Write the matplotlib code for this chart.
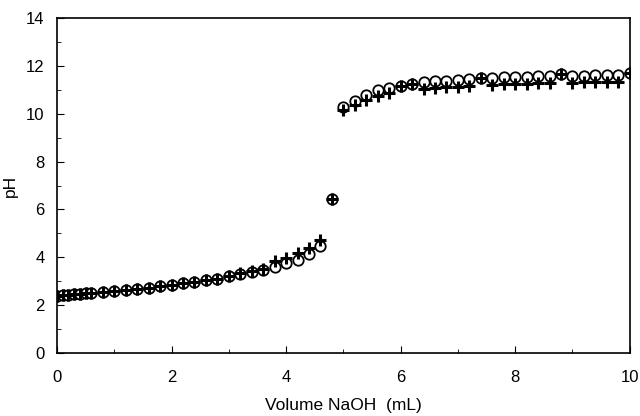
import matplotlib.pyplot as plt
from matplotlib.ticker import MultipleLocator

plt.rcParams['font.family'] = ['Liberation Sans', 'DejaVu Sans']

# volume of NaOH added (mL)
vol = [0.0, 0.1, 0.2, 0.3, 0.4, 0.5, 0.6,
       0.8, 1.0, 1.2, 1.4, 1.6, 1.8, 2.0, 2.2, 2.4, 2.6, 2.8, 3.0,
       3.2, 3.4, 3.6, 3.8, 4.0, 4.2, 4.4, 4.6, 4.8,
       5.0, 5.2, 5.4, 5.6, 5.8, 6.0, 6.2, 6.4, 6.6, 6.8, 7.0, 7.2,
       7.4, 7.6, 7.8, 8.0, 8.2, 8.4, 8.6, 8.8, 9.0, 9.2, 9.4, 9.6,
       9.8, 10.0]

# measured pH (open circles)
ph_measured = [2.40, 2.42, 2.44, 2.46, 2.48, 2.50, 2.52,
               2.56, 2.60, 2.64, 2.68, 2.73, 2.80, 2.86, 2.91, 2.97, 3.04, 3.11, 3.22,
               3.30, 3.38, 3.47, 3.61, 3.77, 3.91, 4.14, 4.47, 6.42,
               10.30, 10.55, 10.80, 10.97, 11.07, 11.17, 11.25, 11.32, 11.35, 11.38, 11.41, 11.44,
               11.50, 11.50, 11.52, 11.54, 11.55, 11.56, 11.57, 11.66, 11.58, 11.59, 11.60, 11.61,
               11.62, 11.70]

# calculated pH (plus markers)
ph_calc = [2.40, 2.42, 2.44, 2.46, 2.48, 2.50, 2.52,
           2.56, 2.60, 2.64, 2.68, 2.73, 2.80, 2.86, 2.91, 2.97, 3.04, 3.11, 3.24,
           3.34, 3.42, 3.52, 3.84, 3.98, 4.17, 4.38, 4.74, 6.42,
           10.15, 10.38, 10.56, 10.72, 10.86, 11.17, 11.25, 11.04, 11.06, 11.10, 11.12, 11.15,
           11.50, 11.18, 11.22, 11.24, 11.25, 11.27, 11.28, 11.66, 11.30, 11.31, 11.32, 11.33,
           11.34, 11.70]

fig = plt.figure(figsize=(6.4, 4.16), dpi=100)
ax = fig.add_axes([0.089, 0.151, 0.895, 0.806])

ax.plot(vol, ph_measured, linestyle='none', marker='o', markersize=7.5,
        markerfacecolor='white', markeredgecolor='black', markeredgewidth=1.3)
ax.plot(vol, ph_calc, linestyle='none', marker='+', markersize=8,
        color='black', markeredgewidth=2.2)

ax.set_xlim(0, 10)
ax.set_ylim(0, 14)
ax.xaxis.set_major_locator(MultipleLocator(2))
ax.xaxis.set_minor_locator(MultipleLocator(1))
ax.yaxis.set_major_locator(MultipleLocator(2))
ax.yaxis.set_minor_locator(MultipleLocator(1))
ax.tick_params(which='both', direction='in', labelsize=12, colors='black')
ax.tick_params(axis='x', which='major', length=5, pad=12)
ax.tick_params(axis='y', which='major', length=5, pad=9)
ax.tick_params(which='minor', length=3)

for s in ax.spines.values():
    s.set_linewidth(1.2)

ax.set_xlabel('Volume NaOH  (mL)', fontsize=12.5)
ax.set_ylabel('pH', fontsize=12.5)
ax.xaxis.set_label_coords(0.5, -0.135)
ax.yaxis.set_label_coords(-0.068, 0.5)

fig.savefig('out.png', dpi=100)
